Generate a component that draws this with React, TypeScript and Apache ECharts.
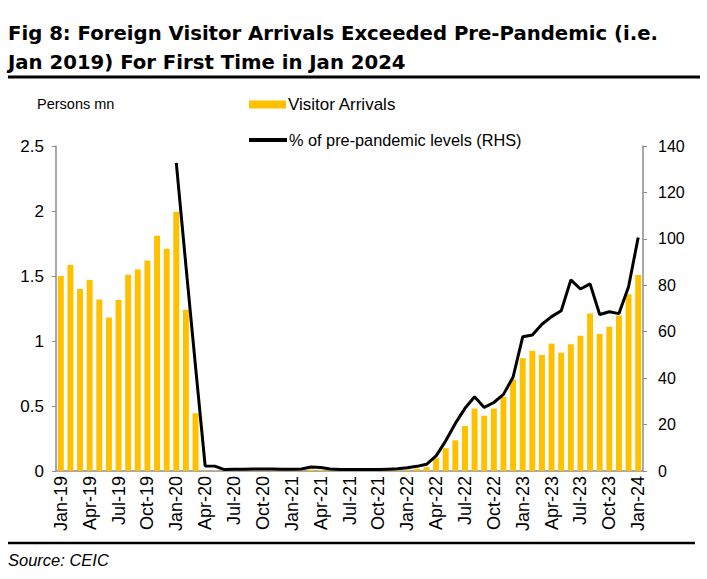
import React, { useEffect, useRef } from "react";
import * as echarts from "echarts";

const categories = [
  "Jan-19","Feb-19","Mar-19","Apr-19","May-19","Jun-19","Jul-19","Aug-19","Sep-19","Oct-19","Nov-19","Dec-19",
  "Jan-20","Feb-20","Mar-20","Apr-20","May-20","Jun-20","Jul-20","Aug-20","Sep-20","Oct-20","Nov-20","Dec-20",
  "Jan-21","Feb-21","Mar-21","Apr-21","May-21","Jun-21","Jul-21","Aug-21","Sep-21","Oct-21","Nov-21","Dec-21",
  "Jan-22","Feb-22","Mar-22","Apr-22","May-22","Jun-22","Jul-22","Aug-22","Sep-22","Oct-22","Nov-22","Dec-22",
  "Jan-23","Feb-23","Mar-23","Apr-23","May-23","Jun-23","Jul-23","Aug-23","Sep-23","Oct-23","Nov-23","Dec-23",
  "Jan-24",
];

// Visitor arrivals, persons mn (LHS)
const visitorArrivals = [
  1.50, 1.585, 1.40, 1.47, 1.32, 1.18, 1.315, 1.51, 1.55, 1.62, 1.81, 1.71,
  1.995, 1.24, 0.444, 0.004, 0.004, 0.005, 0.006, 0.006, 0.007, 0.007, 0.007, 0.006,
  0.006, 0.006, 0.01, 0.009, 0.006, 0.005, 0.005, 0.005, 0.005, 0.005, 0.007, 0.009,
  0.012, 0.018, 0.03, 0.098, 0.175, 0.236, 0.346, 0.48, 0.425, 0.48, 0.57, 0.705,
  0.868, 0.925, 0.893, 0.98, 0.91, 0.975, 1.04, 1.212, 1.054, 1.11, 1.197, 1.36,
  1.508,
];

// % of pre-pandemic levels (RHS)
const pctPrePandemic: (number | null)[] = [
  null, null, null, null, null, null, null, null, null, null, null, null,
  132.7, 88.5, 45, 2.2, 2.1, 0.6, 0.8, 0.8, 0.9, 0.9, 0.9, 0.8,
  0.8, 0.9, 1.7, 1.5, 0.9, 0.6, 0.6, 0.6, 0.6, 0.6, 0.8, 1.0,
  1.4, 2.0, 2.9, 6.5, 13, 20.5, 27, 32, 27.4, 29.5, 33, 40.5,
  57.8, 58.6, 63.2, 66.5, 69, 82.3, 78.4, 80.6, 67.4, 68.6, 67.8, 79.4,
  100.6,
];

const titleText = "Fig 8: Foreign Visitor Arrivals Exceeded Pre-Pandemic (i.e.\nJan 2019) For First Time in Jan 2024";
const barName = "Visitor Arrivals";
const lineName = "% of pre-pandemic levels (RHS)";

const FONT = "'Liberation Sans', Arial, sans-serif";
const TITLE_FONT = "'DejaVu Sans', Verdana, sans-serif";

export default function App() {
  const ref = useRef<HTMLDivElement>(null);
  useEffect(() => {
    document.body.style.margin = "0";
    if (!ref.current) return;
    const chart = echarts.init(ref.current, undefined, { renderer: "svg" });
    chart.setOption({
      animation: false,
      backgroundColor: "#ffffff",
      textStyle: { fontFamily: FONT },
      title: {
        text: titleText,
        left: 3,
        top: 14,
        textStyle: {
          fontFamily: TITLE_FONT,
          fontSize: 19.7,
          fontWeight: "bold",
          color: "#000",
          lineHeight: 29,
        },
      },
      legend: [
        {
          data: [barName],
          left: 244,
          top: 91,
          itemWidth: 37,
          itemHeight: 8,
          itemGap: 0,
          icon: "rect",
          textStyle: { fontSize: 17, color: "#000", fontFamily: FONT, padding: [0, 0, 0, -3] },
        },
        {
          data: [{ name: lineName, icon: "rect" }],
          left: 244,
          top: 127,
          itemWidth: 38,
          itemHeight: 4,
          textStyle: { fontSize: 16.3, color: "#000", fontFamily: FONT, padding: [0, 0, 0, -3] },
        },
      ],
      grid: { left: 56, right: 64, top: 146, bottom: 108, containLabel: false },
      xAxis: {
        type: "category",
        data: categories,
        boundaryGap: true,
        axisLine: { lineStyle: { color: "#8c8c8c", width: 1.5 } },
        axisTick: { show: false },
        axisLabel: {
          interval: 2,
          rotate: 90,
          fontSize: 18,
          color: "#000",
          margin: 5,
          fontFamily: FONT,
        },
      },
      yAxis: [
        {
          type: "value",
          min: 0,
          max: 2.5,
          interval: 0.5,
          splitLine: { show: false },
          axisLine: { show: true, lineStyle: { color: "#8c8c8c", width: 1.5 } },
          axisTick: { show: true, length: 4, lineStyle: { color: "#8c8c8c" } },
          axisLabel: { fontSize: 17, color: "#000", margin: 12, fontFamily: FONT },
        },
        {
          type: "value",
          min: 0,
          max: 140,
          interval: 20,
          position: "right",
          splitLine: { show: false },
          axisLine: { show: true, lineStyle: { color: "#8c8c8c", width: 1.5 } },
          axisTick: { show: true, length: 4, lineStyle: { color: "#8c8c8c" } },
          axisLabel: { fontSize: 16, color: "#000", margin: 15, fontFamily: FONT },
        },
      ],
      graphic: [
        {
          type: "line",
          shape: { x1: 8, y1: 77, x2: 700, y2: 77 },
          style: { stroke: "#000", lineWidth: 3 },
        },
        {
          type: "line",
          shape: { x1: 8, y1: 543, x2: 695, y2: 543 },
          style: { stroke: "#000", lineWidth: 2.5 },
        },
        {
          type: "text",
          left: 37,
          top: 96,
          style: { text: "Persons mn", font: `14.5px ${FONT}`, fill: "#000" },
        },
        {
          type: "text",
          left: 8,
          top: 551,
          style: { text: "Source: CEIC", font: `italic 16.5px ${FONT}`, fill: "#000" },
        },
      ],
      series: [
        {
          name: barName,
          type: "bar",
          data: visitorArrivals,
          yAxisIndex: 0,
          barCategoryGap: "38%",
          itemStyle: { color: "#FFC000" },
        },
        {
          name: lineName,
          type: "line",
          data: pctPrePandemic,
          yAxisIndex: 1,
          showSymbol: false,
          symbol: "none",
          lineStyle: { color: "#000", width: 3 },
          itemStyle: { color: "#000" },
          connectNulls: false,
        },
      ],
    });
    return () => chart.dispose();
  }, []);
  return <div ref={ref} style={{ width: 707, height: 579 }} />;
}
